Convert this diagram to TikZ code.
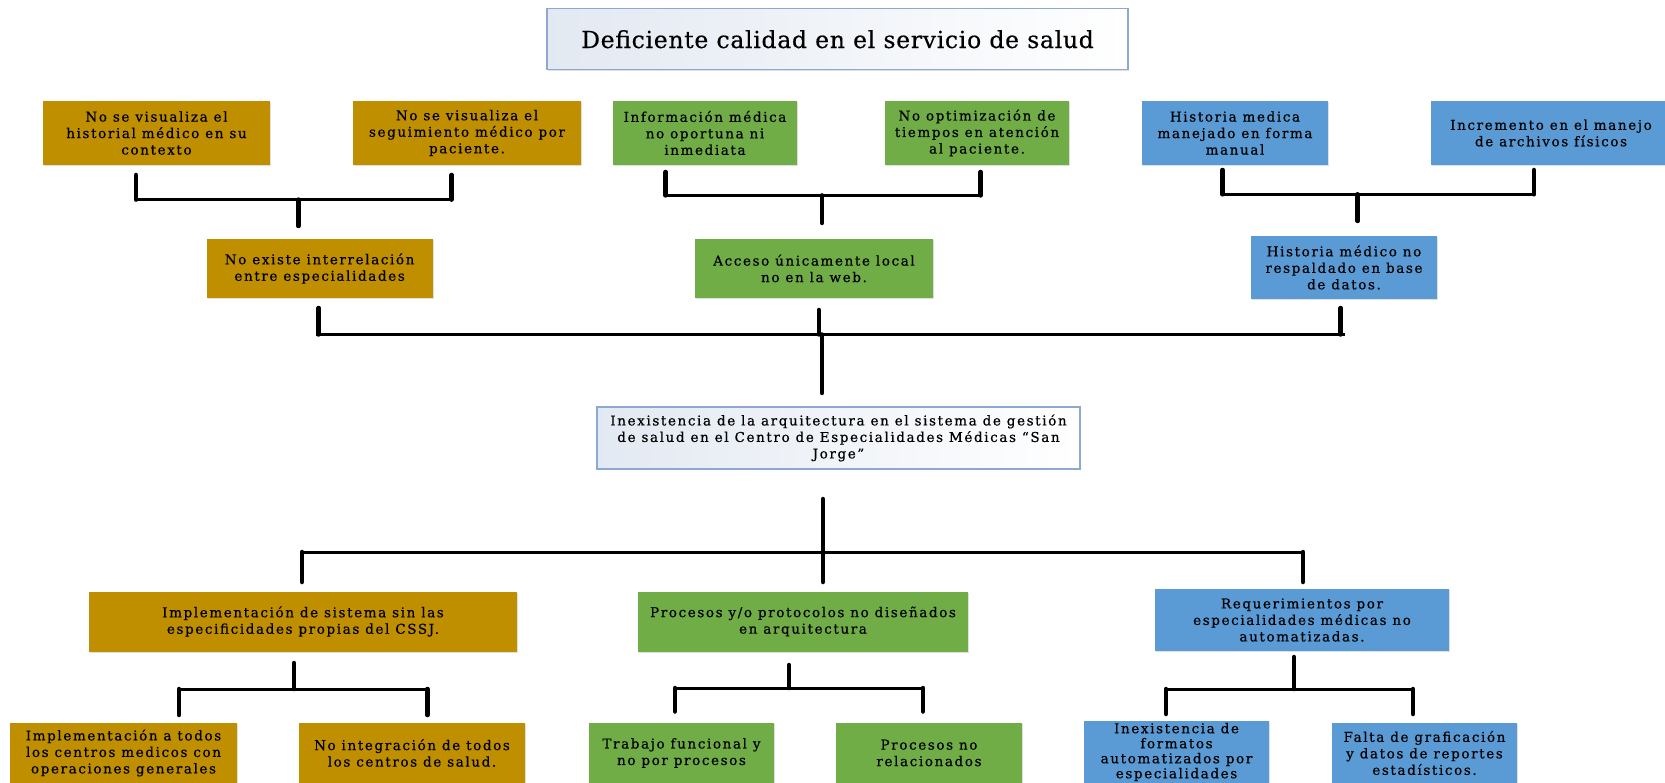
\documentclass[tikz,border=0pt]{standalone}
\usepackage{fontspec}
\setmainfont{DejaVu Serif}
\newfontfamily\cellfont{DejaVu Serif}[LetterSpace=12, FakeBold=0.6]
\newfontfamily\headfont{DejaVu Serif}[LetterSpace=3, FakeBold=0.4]
\usetikzlibrary{shadows}

\definecolor{gold}{HTML}{BF8F00}
\definecolor{leaf}{HTML}{70AD47}
\definecolor{sky}{HTML}{5B9BD5}
\definecolor{frame}{HTML}{8EA9CF}
\definecolor{mist}{HTML}{E3E9F2}

\tikzset{
  cell/.style={rectangle, inner sep=0pt, align=center,
    font=\cellfont\fontsize{13.5}{16.5}\selectfont,
    drop shadow={shadow xshift=1pt, shadow yshift=-1pt, opacity=.35, fill=black!35}},
  goldcell/.style={cell, fill=gold},
  leafcell/.style={cell, fill=leaf},
  skycell/.style={cell, fill=sky},
  headcell/.style={cell, draw=frame, line width=1.2pt, left color=mist, right color=white},
  leg/.style={line width=4.5pt, line cap=round},
  bar/.style={line width=3pt},
}

\begin{document}
\begin{tikzpicture}[x=1pt, y=-1pt]
\useasboundingbox (0,0) rectangle (1665,783);
\fill[white] (0,0) rectangle (1665,783);
\clip (0,0) rectangle (1665,783);

% ---- effect at the top
\node[headcell, minimum width=581pt, minimum height=61pt,
      font=\headfont\fontsize{23.5}{27}\selectfont] (top) at (837.5,39.25)
  {Deficiente calidad en el servicio de salud};

% ---- first row of causes
\node[goldcell, minimum width=227pt, minimum height=64pt] (A1) at (156.5,133)
  {No se visualiza el\\historial médico en su\\contexto};
\node[goldcell, minimum width=228pt, minimum height=64pt] (A2) at (467,133)
  {No se visualiza el\\seguimiento médico por\\paciente.};
\node[leafcell, minimum width=184pt, minimum height=64pt] (B1) at (705,133)
  {Información médica\\no oportuna ni\\inmediata};
\node[leafcell, minimum width=184pt, minimum height=64pt] (B2) at (977,133)
  {No optimización de\\tiempos en atención\\al paciente.};
\node[skycell, minimum width=186pt, minimum height=64pt] (C1) at (1235,133)
  {Historia medica\\manejado en forma\\manual};
\node[skycell, minimum width=240pt, minimum height=64pt] (C2) at (1551,133)
  {Incremento en el manejo\\de archivos físicos};

% ---- second row
\node[goldcell, minimum width=226pt, minimum height=59pt] (D) at (319.6,268.5)
  {No existe interrelación\\entre especialidades};
\node[leafcell, minimum width=238pt, minimum height=59pt] (E) at (814,268.5)
  {Acceso únicamente local\\no en la web.};
\node[skycell, minimum width=186pt, minimum height=63pt] (F) at (1344,267.5)
  {Historia médico no\\respaldado en base\\de datos.};

% ---- central problem
\node[headcell, minimum width=483pt, minimum height=62pt] (G) at (838.5,438)
  {Inexistencia de la arquitectura en el sistema de gestión\\de salud en el Centro de Especialidades Médicas “San\\Jorge”};

% ---- third row
\node[goldcell, minimum width=428pt, minimum height=60pt] (H) at (303,621.5)
  {Implementación de sistema sin las\\especificidades propias del CSSJ.};
\node[leafcell, minimum width=330pt, minimum height=60pt] (I) at (803,621.5)
  {Procesos y/o protocolos no diseñados\\en arquitectura};
\node[skycell, minimum width=294pt, minimum height=62pt] (J) at (1302,620)
  {Requerimientos por\\especialidades médicas no\\automatizadas.};

% ---- fourth row
\node[goldcell, minimum width=227pt, minimum height=60pt] (K) at (123.5,753)
  {Implementación a todos\\los centros medicos con\\operaciones generales};
\node[goldcell, minimum width=226pt, minimum height=60pt] (L) at (412,753)
  {No integración de todos\\los centros de salud.};
\node[leafcell, minimum width=185pt, minimum height=60pt] (M) at (681.5,753)
  {Trabajo funcional y\\no por procesos};
\node[leafcell, minimum width=186pt, minimum height=60pt] (N) at (929,753)
  {Procesos no\\relacionados};
\node[skycell, minimum width=185pt, minimum height=62pt,
      font=\cellfont\fontsize{13.5}{15}\selectfont] (O) at (1176.5,752)
  {Inexistencia de\\formatos\\automatizados por\\especialidades};
\node[skycell, minimum width=185pt, minimum height=60pt] (P) at (1424.5,753)
  {Falta de graficación\\y datos de reportes\\estadísticos.};

% ---- bracket points, first row
\coordinate (a1t) at (136,175);    \coordinate (a1k) at (136,199.6);
\coordinate (a2t) at (451.6,175);  \coordinate (a2k) at (451.6,199.6);
\coordinate (dk)  at (298.5,199.6);\coordinate (dt)  at (298.5,226);
\coordinate (b1t) at (665.6,172);  \coordinate (b1k) at (665.6,195.4);
\coordinate (b2t) at (980.7,172);  \coordinate (b2k) at (980.7,195.4);
\coordinate (ek)  at (822,195.4);  \coordinate (et)  at (822,223);
\coordinate (c1t) at (1222.5,170); \coordinate (c1k) at (1222.5,194.3);
\coordinate (c2t) at (1534,170);   \coordinate (c2k) at (1534,194.3);
\coordinate (fk)  at (1357.7,194.3);\coordinate (ft) at (1357.7,221);

\draw[bar] (a1k) -- (a2k);
\draw[leg] (a1t) -- (a1k);  \draw[leg] (a2t) -- (a2k);  \draw[leg] (dk) -- (dt);
\draw[bar] (b1k) -- (b2k);
\draw[leg] (b1t) -- (b1k);  \draw[leg] (b2t) -- (b2k);  \draw[leg] (ek) -- (et);
\draw[bar] (c1k) -- (c2k);
\draw[leg] (c1t) -- (c1k);  \draw[leg] (c2t) -- (c2k);  \draw[leg] (fk) -- (ft);

% ---- bracket points, second row
\coordinate (d2t) at (318.6,308);  \coordinate (d2k) at (318.6,334.5);
\coordinate (e2t) at (818.8,310);  \coordinate (e2k) at (818.8,334.5);
\coordinate (f2t) at (1340.7,308); \coordinate (f2k) at (1340.7,334.5);
\coordinate (gk)  at (822,334.5);  \coordinate (gt)  at (822,393);

\draw[bar] ([xshift=-3pt]d2k) -- ([xshift=4pt]f2k);
\draw[leg] (d2t) -- (d2k);  \draw[leg] (e2t) -- (e2k);  \draw[leg] (f2t) -- (f2k);
\draw[leg] (gk) -- (gt);

% ---- bracket points below the central problem
\coordinate (gb) at (823,499);   \coordinate (gm) at (823,582);
\coordinate (hk) at (302,552);   \coordinate (ht) at (302,582);
\coordinate (jk) at (1303,552);  \coordinate (jt) at (1303,582);

\draw[bar] (hk) -- (jk);
\draw[leg] (gb) -- (gm);  \draw[leg] (hk) -- (ht);  \draw[leg] (jk) -- (jt);

% ---- bracket points, third row
\coordinate (hs) at (294,663);    \coordinate (hj) at (294,689);
\coordinate (kk) at (179,689);    \coordinate (kt) at (179,715);
\coordinate (lk) at (427.5,689);  \coordinate (lt) at (427.5,715);
\coordinate (is) at (789,665);    \coordinate (ij) at (789,688);
\coordinate (mk) at (675,688);    \coordinate (mt) at (675,711.5);
\coordinate (nk) at (923,688);    \coordinate (nt) at (923,711.5);
\coordinate (js) at (1294,657);   \coordinate (jj) at (1294,689);
\coordinate (ok) at (1166,689);   \coordinate (ot) at (1166,714);
\coordinate (pk) at (1413,689);   \coordinate (pt) at (1413,714);

\draw[bar] (kk) -- (lk);
\draw[leg] (hs) -- (hj);  \draw[leg] (kk) -- (kt);  \draw[leg] (lk) -- (lt);
\draw[bar] (mk) -- (nk);
\draw[leg] (is) -- (ij);  \draw[leg] (mk) -- (mt);  \draw[leg] (nk) -- (nt);
\draw[bar] (ok) -- (pk);
\draw[leg] (js) -- (jj);  \draw[leg] (ok) -- (ot);  \draw[leg] (pk) -- (pt);
\end{tikzpicture}
\end{document}
